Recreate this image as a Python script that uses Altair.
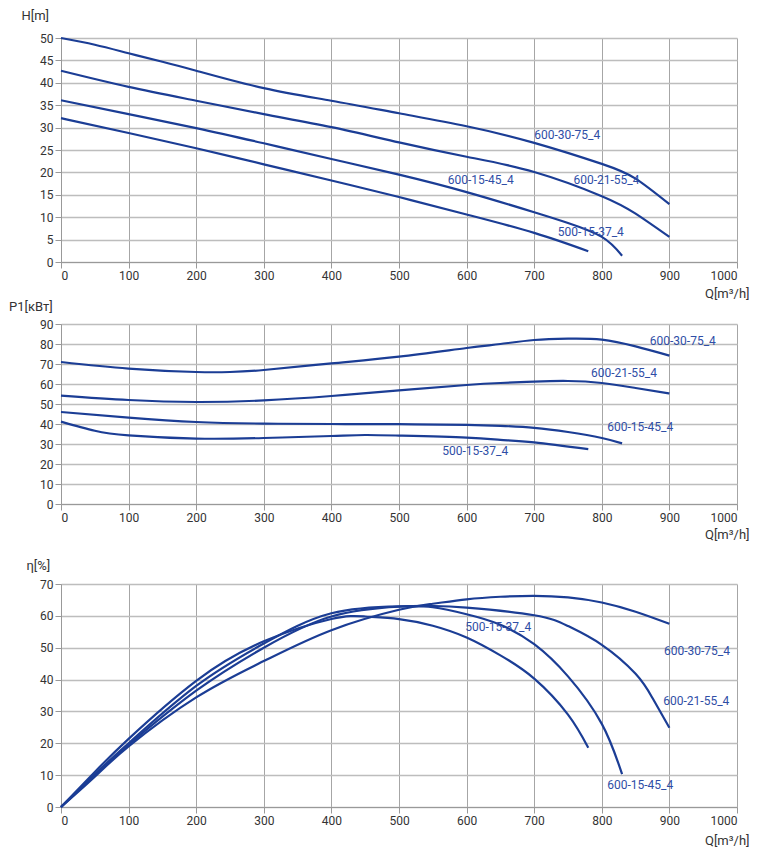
import altair as alt
import pandas as pd

LINE_COLOR = "#1b3d95"
TEXT_COLOR = "#2f4ea6"
FONT = "Roboto"

series = ["600-30-75_4", "600-21-55_4", "600-15-45_4", "500-15-37_4"]

# ---- Head H[m] ----
h_q = {
    "600-30-75_4": [0, 50, 100, 150, 200, 300, 400, 500, 600, 700, 800, 850, 900],
    "600-21-55_4": [0, 100, 200, 300, 400, 500, 600, 700, 800, 850, 900],
    "600-15-45_4": [0, 100, 200, 300, 400, 500, 600, 700, 750, 800, 830],
    "500-15-37_4": [0, 100, 200, 300, 400, 500, 600, 700, 780],
}
h_v = {
    "600-30-75_4": [50, 48.5, 46.6, 44.7, 42.7, 38.8, 36, 33.2, 30.3, 26.6, 21.9, 18.6, 12.9],
    "600-21-55_4": [42.7, 39.1, 36, 33, 30.1, 26.7, 23.5, 20.1, 14.7, 10.8, 5.6],
    "600-15-45_4": [36.1, 33, 29.9, 26.5, 23, 19.5, 15.6, 11.1, 8.7, 5.6, 1.4],
    "500-15-37_4": [32.1, 28.8, 25.4, 21.8, 18.2, 14.5, 10.6, 6.5, 2.4],
}
h_lab_q = [700, 758, 572, 735]
h_lab_v = [28.3, 18.2, 18.2, 6.7]

# ---- Power P1[kW] ----
p_q = {
    "600-30-75_4": [0, 100, 200, 250, 300, 400, 500, 600, 650, 700, 750, 800, 850, 900],
    "600-21-55_4": [0, 100, 200, 300, 400, 500, 600, 650, 700, 750, 800, 850, 900],
    "600-15-45_4": [0, 100, 200, 300, 400, 500, 600, 650, 700, 750, 800, 830],
    "500-15-37_4": [0, 50, 100, 200, 300, 400, 450, 500, 600, 650, 700, 780],
}
p_v = {
    "600-30-75_4": [71, 67.7, 66, 66, 67, 70.3, 73.7, 78, 80, 82, 82.7, 82.2, 78.8, 74.2],
    "600-21-55_4": [54.2, 52, 51, 51.8, 54, 56.8, 59.5, 60.5, 61.2, 61.5, 60.5, 58, 55.3],
    "600-15-45_4": [46, 43.2, 41, 40.2, 40, 39.9, 39.6, 39.1, 38.1, 36, 33, 30.3],
    "500-15-37_4": [41.2, 36.6, 34.3, 32.7, 33, 34, 34.5, 34.2, 33.2, 32.1, 30.8, 27.4],
}
p_lab_q = [871, 784, 808, 564]
p_lab_v = [81.7, 65.3, 38.3, 26.7]

# ---- Efficiency eta[%] ----
e_q = {
    "600-30-75_4": [0, 50, 100, 200, 300, 400, 500, 550, 600, 650, 700, 750, 800, 850, 900],
    "600-21-55_4": [0, 50, 100, 200, 300, 400, 500, 550, 600, 700, 750, 800, 850, 875, 900],
    "600-15-45_4": [0, 50, 100, 200, 300, 400, 500, 550, 600, 650, 700, 750, 800, 830],
    "500-15-37_4": [0, 50, 100, 200, 300, 400, 450, 500, 550, 600, 650, 700, 750, 780],
}
e_v = {
    "600-30-75_4": [0, 9.5, 19, 34.4, 45.8, 55.5, 61.9, 63.8, 65.2, 66, 66.3, 65.8, 64.2, 61.3, 57.5],
    "600-21-55_4": [0, 10, 19.5, 36.5, 50, 59.8, 62.9, 63.1, 62.6, 60.2, 56.8, 50.9, 41.8, 34.2, 24.9],
    "600-15-45_4": [0, 10.3, 20, 38, 51.3, 60.8, 63, 62.7, 60.5, 57.2, 51.1, 41, 26.1, 10.3],
    "500-15-37_4": [0, 11, 21.4, 39.6, 52, 59, 59.8, 59, 56.9, 53.2, 47.6, 40.3, 29, 18.6],
}
e_lab_q = [892, 891, 808, 598]
e_lab_v = [48.9, 33.2, 6.8, 56.4]

x_ticks = list(range(0, 1001, 100))

W = 676


def long_df(qd, vd):
    rows = []
    for s in series:
        for q, v in zip(qd[s], vd[s]):
            rows.append({"series": s, "Q": q, "V": v})
    return pd.DataFrame(rows)


def panel(qd, vd, lq, lv, ymax, ystep, ytitle, height, ytx, yty, xty):
    df = long_df(qd, vd)
    lab = pd.DataFrame({"series": series, "Q": lq, "V": lv})
    xenc = alt.X(
        "Q:Q",
        scale=alt.Scale(domain=[0, 1000], nice=False),
        axis=alt.Axis(
            values=x_ticks,
            format="d",
            title="Q[m³/h]",
            titleX=W + 12,
            titleY=xty,
            titleAlign="right",
            titleBaseline="middle",
            titleAnchor="end",
            gridColor="#a6a6a6",
        ),
    )
    yenc = alt.Y(
        "V:Q",
        scale=alt.Scale(domain=[0, ymax], nice=False),
        axis=alt.Axis(
            values=list(range(0, ymax + 1, ystep)),
            format="d",
            title=ytitle,
            titleAngle=0,
            titleX=ytx,
            titleY=yty,
            titleAlign="left",
            titleBaseline="middle",
            gridColor="#bdbdbd",
            gridWidth=1.3,
        ),
    )
    lines = alt.Chart(df).mark_line(
        interpolate="natural", color=LINE_COLOR, strokeWidth=2.2
    ).encode(x=xenc, y=yenc, detail="series:N")
    texts = alt.Chart(lab).mark_text(
        align="left", baseline="middle", color=TEXT_COLOR, fontSize=12, font=FONT
    ).encode(x=xenc, y=yenc, text="series:N")
    return alt.layer(lines, texts).properties(width=W, height=height)


def spacer(h):
    return alt.Chart(pd.DataFrame({"a": [0]})).mark_point(opacity=0, size=0).encode(
        x=alt.value(0), y=alt.value(0)
    ).properties(width=W, height=h)


p1 = panel(h_q, h_v, h_lab_q, h_lab_v, 50, 5, "H[m]", 224, -40, -23, 31)
p2 = panel(p_q, p_v, p_lab_q, p_lab_v, 90, 10, "P1[кВт]", 180, -52.5, -18, 30)
p3 = panel(e_q, e_v, e_lab_q, e_lab_v, 70, 10, "η[%]", 223, -35, -19, 33)

chart = alt.vconcat(
    p1, spacer(61.6), p2, spacer(80), p3, spacing=0, bounds="flush"
).properties(
    padding={"left": 0, "top": 0, "right": 5, "bottom": 5}
).configure(font=FONT).configure_view(
    stroke="transparent"
).configure_axis(
    grid=True,
    gridColor="#b4b4b4",
    gridWidth=1,
    domainColor="#999999",
    tickColor="#999999",
    tickSize=6,
    labelFontSize=12,
    labelColor="#333333",
    labelFont=FONT,
    titleFont=FONT,
    titleFontSize=13,
    titleFontWeight="normal",
    titleColor="#333333",
    labelPadding=2,
)

chart.save("out.html", embed_options={"renderer": "svg", "actions": False})
